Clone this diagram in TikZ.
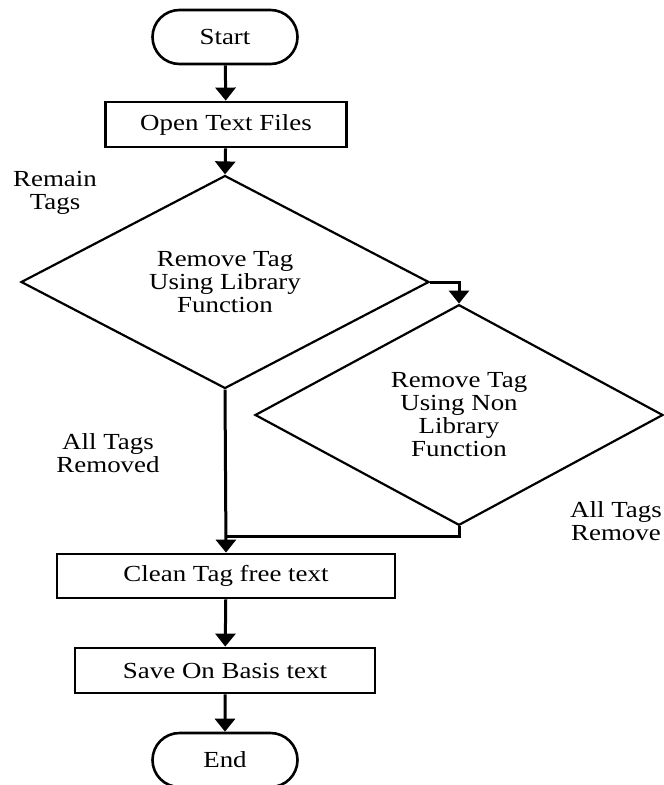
\documentclass[tikz,border=0pt]{standalone}
\usepackage{fontspec}
\setmainfont{Liberation Serif}[FakeStretch=1.17]
\usetikzlibrary{shapes.geometric,shapes.misc,arrows.meta}
\tikzset{
  txt/.style={font=\fontsize{23}{23}\selectfont, align=center},
  term/.style={txt, draw, line width=2.6pt, rounded rectangle, minimum width=145pt, minimum height=54pt, inner sep=0pt},
  procbox/.style={txt, draw, line width=2.8pt, rectangle, inner sep=0pt},
  decision/.style={txt, draw, line width=2.2pt, diamond, inner sep=0pt},
  lbl/.style={txt, inner sep=0pt},
  conn/.style={line width=3pt, -{Triangle[length=13pt,width=20pt]}},
  plainconn/.style={line width=3pt}
}
\begin{document}
\begin{tikzpicture}[x=1pt,y=-1pt]
\useasboundingbox (0,0) rectangle (664,785);
\clip (0,0) rectangle (664,785);
\node[term] (start) at (225,37) {Start};
\node[procbox, minimum width=241pt, minimum height=45pt] (open) at (226,124.5) {Open Text Files};
\node[decision, minimum width=408pt, minimum height=170pt] (d1) at (225,282) {Remove Tag\\Using Library\\Function};
\node[decision, minimum width=408pt, minimum height=206pt] (d2) at (459,415) {Remove Tag\\Using Non\\Library\\Function};
\node[procbox, minimum width=338pt, minimum height=44pt] (clean) at (226,576) {Clean Tag free text};
\node[procbox, minimum width=300pt, minimum height=45pt] (save) at (225,670.5) {Save On Basis text};
\node[term] (end) at (225,760) {End};
\node[lbl] (remain) at (55,193) {Remain\\Tags};
\node[lbl] (removed1) at (108,453) {All Tags\\Removed};
\node[lbl] (removed2) at (616,521) {All Tags\\Remove};
\coordinate (j) at (225,536);
\draw[conn] (start) -- (open);
\draw[conn] (open) -- (d1.north);
\draw[conn] (d1.east) -| (d2.north);
\draw[conn] (d1.south) -- (clean.north);
\draw[plainconn] (d2.south) |- (j);
\draw[conn] (clean) -- (save);
\draw[conn] (save) -- (end);
\end{tikzpicture}
\end{document}
